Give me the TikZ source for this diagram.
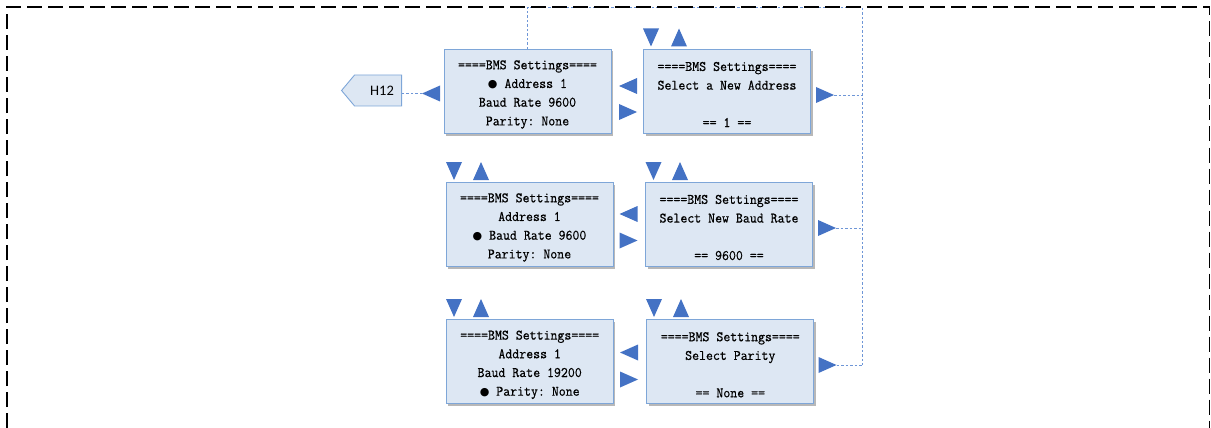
\documentclass[tikz,border=0pt]{standalone}
\usepackage{fontspec}
\newfontfamily\hfont{Carlito}
\newfontfamily\boxfont{Latin Modern Mono}[FakeBold=0.6,FakeStretch=0.93]
\newfontfamily\symfont{DejaVu Sans}
\usetikzlibrary{shadows,shapes.symbols}
\definecolor{boxfill}{RGB}{221,231,243}
\definecolor{boxdraw}{RGB}{126,166,216}
\definecolor{trifill}{RGB}{68,114,196}
\definecolor{dotcol}{RGB}{110,150,215}
\newcommand{\bul}{{\symfont\fontsize{11}{11}\selectfont ●}}
\newcommand{\topline}{\rule{0pt}{15pt}====BMS Settings====}
\tikzset{
  menubox/.style={draw=boxdraw, line width=0.9pt, fill=boxfill, minimum width=167pt, minimum height=84pt,
    inner sep=0pt, align=center, font=\boxfont\fontsize{14.5}{18.7}\selectfont\frenchspacing,
    drop shadow={shadow xshift=2pt, shadow yshift=-2pt, fill=black, opacity=0.28}},
  tri/.pic={\fill[trifill] (-9,-8) -- (9,0) -- (-9,8) -- cycle;
            \coordinate (-tip) at (9,0); \coordinate (-base) at (-9,0);},
  dotline/.style={draw=dotcol, line width=0.8pt, dash pattern=on 2.5pt off 2pt},
  frame/.style={draw=black, line width=1.8pt, dash pattern=on 15pt off 6pt},
  hbox/.style={signal, signal to=west, signal from=nowhere, signal pointer angle=100,
    draw=boxdraw, line width=0.9pt, fill=boxfill, minimum width=60pt, minimum height=31pt,
    inner sep=0pt, font=\hfont\fontsize{14.5}{16}\selectfont},
}
\begin{document}
\begin{tikzpicture}[x=1pt,y=-1pt]
\useasboundingbox (0,0) rectangle (1211,428);
% boxes
\node[menubox] (aL) at (527.5,91.5) {\topline\\\bul{} Address 1\\Baud Rate 9600\\Parity: None};
\node[menubox] (aR) at (727,91.5) {\topline\\Select a New Address\\[18.7pt]== 1 ==};
\node[menubox] (bL) at (529.5,224.5) {\topline\\Address 1\\\bul{} Baud Rate 9600\\Parity: None};
\node[menubox] (bR) at (729,224.5) {\topline\\Select New Baud Rate\\[18.7pt]== 9600 ==};
\node[menubox] (cL) at (529.7,361.8) {\topline\\Address 1\\Baud Rate 19200\\\bul{} Parity: None};
\node[menubox] (cR) at (730.3,361.8) {\topline\\Select Parity\\[18.7pt]== None ==};
\node[hbox, anchor=east] (H12) at (402,90.5) {\hspace*{10pt}H12\hspace*{2pt}};
% triangles row 1
\pic[rotate=180] (t0) at (431,93.5) {tri};
\pic[rotate=180] (a1) at (628,86) {tri};
\pic (a2) at (628,112) {tri};
\pic (a3) at (825,95) {tri};
\pic[rotate=-90] (a4) at (651,37.5) {tri};
\pic[rotate=90] (a5) at (679,37.5) {tri};
% row 2
\pic[rotate=-90] (b4) at (454,171) {tri};
\pic[rotate=90] (b5) at (481,171) {tri};
\pic[rotate=-90] (b6) at (653.5,171) {tri};
\pic[rotate=90] (b7) at (680,171) {tri};
\pic[rotate=180] (b1) at (628.5,214) {tri};
\pic (b2) at (628.5,240.5) {tri};
\pic (b3) at (827,228) {tri};
% row 3
\pic[rotate=-90] (c4) at (454,308) {tri};
\pic[rotate=90] (c5) at (481,308) {tri};
\pic[rotate=-90] (c6) at (654,308) {tri};
\pic[rotate=90] (c7) at (681,308) {tri};
\pic[rotate=180] (c1) at (629,352.5) {tri};
\pic (c2) at (629,379.5) {tri};
\pic (c3) at (827.5,365) {tri};
% dotted connectors
\coordinate (busTop) at (862.5,7);
\draw[dotline] (aL.north) |- (busTop) -- (busTop |- c3-tip);
\draw[dotline] (a3-tip) -- (a3-tip -| busTop);
\draw[dotline] (b3-tip) -- (b3-tip -| busTop);
\draw[dotline] (c3-tip) -- (c3-tip -| busTop);
\draw[dotline] (t0-tip) -- (t0-tip -| H12.east);
% frame
\draw[frame] (7,428) -- (7,7) -- (1209.5,7) -- (1209.5,428);
\end{tikzpicture}
\end{document}
